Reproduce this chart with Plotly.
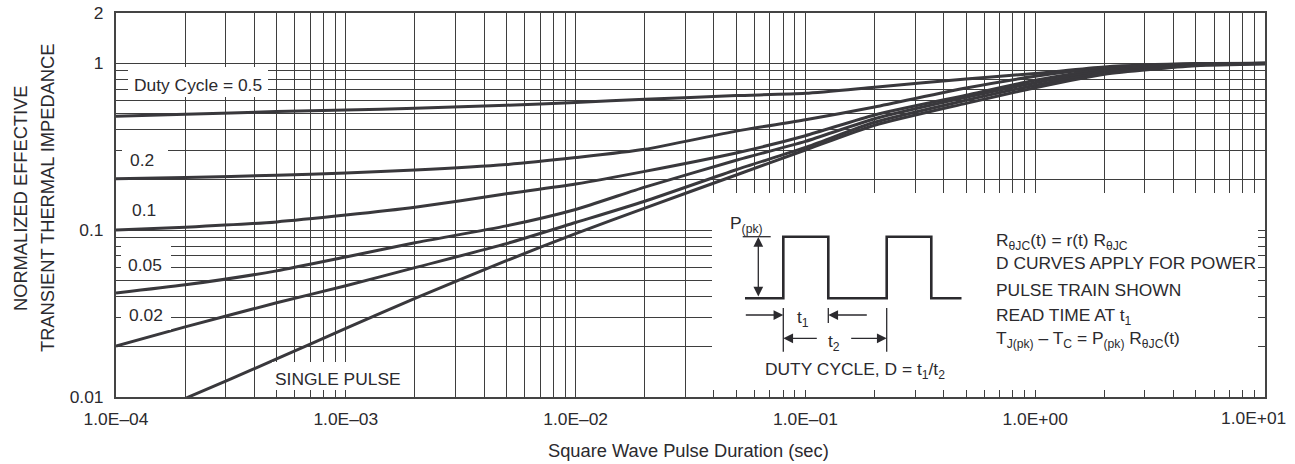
import numpy as np
import plotly.graph_objects as go

# ---------------- data ----------------
pulse_duration = [1e-4, 2e-4, 5e-4, 1e-3, 2e-3, 5e-3, 1e-2, 2e-2, 5e-2,
                  1e-1, 2e-1, 5e-1, 1.0, 2.0, 5.0, 10.0]

r_duty_050 = [0.482, 0.495, 0.513, 0.525, 0.537, 0.560, 0.582, 0.608, 0.640,
              0.660, 0.718, 0.805, 0.868, 0.950, 0.995, 1.000]
r_duty_020 = [0.203, 0.207, 0.213, 0.220, 0.229, 0.247, 0.272, 0.305, 0.392,
              0.458, 0.547, 0.710, 0.835, 0.935, 0.990, 1.000]
r_duty_010 = [0.100, 0.104, 0.112, 0.123, 0.137, 0.165, 0.189, 0.225, 0.290,
              0.368, 0.490, 0.643, 0.790, 0.914, 0.985, 1.000]
r_duty_005 = [0.042, 0.047, 0.057, 0.069, 0.084, 0.106, 0.133, 0.181, 0.262,
              0.340, 0.465, 0.625, 0.764, 0.895, 0.978, 1.000]
r_duty_002 = [0.0202, 0.0263, 0.0367, 0.0464, 0.0596, 0.083, 0.111, 0.149, 0.230,
              0.313, 0.443, 0.600, 0.738, 0.877, 0.972, 0.995]
r_single = [0.0066, 0.0098, 0.0169, 0.0258, 0.039, 0.0656, 0.0953, 0.1356, 0.214,
            0.302, 0.425, 0.575, 0.713, 0.859, 0.966, 0.990]

curve_series = [r_duty_050, r_duty_020, r_duty_010, r_duty_005, r_duty_002, r_single]

x_tickvals = [1e-4, 1e-3, 1e-2, 1e-1, 1.0, 10.0]
x_ticktext = ["1.0E\u201304", "1.0E\u201303", "1.0E\u201302", "1.0E\u201301",
              "1.0E+00", "1.0E+01"]
y_tickvals = [0.01, 0.1, 1.0, 2.0]
y_ticktext = ["0.01", "0.1", "1", "2"]

curve_labels = ["Duty Cycle = 0.5", "0.2", "0.1", "0.05", "0.02", "SINGLE PULSE"]

# ---------------- style / layout ----------------
W, H = 1295, 464
ML, MR, MT, MB = 116, 30, 13, 67
PW, PH = W - ML - MR, H - MT - MB

FONT = "Liberation Sans, Arial, Helvetica, sans-serif"
TXT = "#2b2a2e"
CURVE = "#39383c"
GRID = "#3e3e3e"
AX = "#444444"
FS = 17.4
FT = 18.3


def PX(x):
    return (x - ML) / PW


def PY(y):
    return (MT + PH - y) / PH


fig = go.Figure()
for r in curve_series:
    fig.add_trace(go.Scatter(
        x=pulse_duration, y=r, mode="lines",
        line=dict(color=CURVE, width=3, shape="spline", smoothing=0.6),
        showlegend=False, hoverinfo="skip"))

shapes = []


def wbox(x0, x1, y0, y1):
    shapes.append(dict(type="rect", xref="paper", yref="paper",
                       x0=PX(x0), x1=PX(x1), y0=PY(y1), y1=PY(y0),
                       fillcolor="white", line=dict(width=0), layer="above"))


# inset background and label backgrounds (gridline stubs left at the frame act as ticks)
wbox(712, 1258, 193, 390)
wbox(128, 268, 67, 97)
wbox(122, 168, 145, 173)
wbox(121, 171, 244, 276)
wbox(121, 171, 303, 330)
wbox(272, 405, 362, 390)


def seg(x0, y0, x1, y1, w=1.3):
    shapes.append(dict(type="line", xref="paper", yref="paper",
                       x0=PX(x0), y0=PY(y0), x1=PX(x1), y1=PY(y1),
                       line=dict(color=TXT, width=w), layer="above"))


# pulse train illustration
pulse_pts = [(745, 298.3), (783.3, 298.3), (783.3, 236.7), (828.3, 236.7),
             (828.3, 298.3), (886.7, 298.3), (886.7, 236.7), (931.3, 236.7),
             (931.3, 298.3), (961.5, 298.3)]
path = "M " + " L ".join(f"{PX(a):.5f},{PY(b):.5f}" for a, b in pulse_pts)
shapes.append(dict(type="path", xref="paper", yref="paper", path=path,
                   line=dict(color=TXT, width=2.6), layer="above"))
seg(742.7, 236.7, 770.7, 236.7)
seg(783.3, 308, 783.3, 351.7)
seg(828.3, 308, 828.3, 323)
seg(886.7, 308, 886.7, 351.7)

annotations = []


def txt(s, x, y, xanchor="center", size=FS, angle=0):
    annotations.append(dict(text=s, xref="paper", yref="paper", x=PX(x), y=PY(y),
                            xanchor=xanchor, yanchor="middle", showarrow=False,
                            textangle=angle,
                            font=dict(family=FONT, size=size, color=TXT)))


def arrow(xh, yh, ax, ay, both=False):
    a = dict(text="", xref="paper", yref="paper", x=PX(xh), y=PY(yh),
             ax=ax, ay=ay, showarrow=True, arrowhead=2, arrowsize=1.5,
             arrowwidth=1.3, arrowcolor=TXT, standoff=0)
    if both:
        a.update(arrowside="end+start", startarrowhead=2, startarrowsize=1.5,
                 startstandoff=0)
    annotations.append(a)


# curve labels
txt(curve_labels[0], 198, 85)
txt(curve_labels[1], 141.5, 160)
txt(curve_labels[2], 144, 210)
txt(curve_labels[3], 144.5, 265)
txt(curve_labels[4], 146, 315)
txt(curve_labels[5], 338, 379)

# inset texts
txt("P<sub>(pk)</sub>", 728, 224, xanchor="left")
txt("t<sub>1</sub>", 803, 318)
txt("t<sub>2</sub>", 834, 342)
txt("DUTY CYCLE, D = t<sub>1</sub>/t<sub>2</sub>", 763, 370, xanchor="left")
txt("R<sub>\u03b8JC</sub>(t) = r(t) R<sub>\u03b8JC</sub>", 994, 241, xanchor="left")
txt("D CURVES APPLY FOR POWER", 994, 262.5, xanchor="left")
txt("PULSE TRAIN SHOWN", 994, 290, xanchor="left")
txt("READ TIME AT t<sub>1</sub>", 994, 316, xanchor="left")
txt("T<sub>J(pk)</sub> \u2013 T<sub>C</sub> = P<sub>(pk)</sub> R<sub>\u03b8JC</sub>(t)",
    994, 339.5, xanchor="left")

# arrows
arrow(758.3, 237, 0, 61, both=True)
arrow(783.3, 315, -39, 0)
arrow(828.3, 315, 40, 0)
arrow(783.3, 338.3, 35, 0)
arrow(886.7, 338.3, -37, 0)

# axis titles
txt("NORMALIZED EFFECTIVE", 20, 198, size=FT, angle=-90)
txt("TRANSIENT THERMAL IMPEDANCE", 47.5, 198.5, size=FT, angle=-90)
txt("Square Wave Pulse Duration (sec)", 688.5, 450, size=FT)

# last x tick label sits shifted left of its tick (as in the original), drawn as text
txt(x_ticktext[-1], 1253, 417.5)
x_ticktext_axis = x_ticktext[:-1] + [""]

axis_common = dict(
    type="log", ticks="", showgrid=True, gridcolor=GRID, gridwidth=1,
    showline=True, linecolor=AX, linewidth=2, mirror=True,
    zeroline=False, automargin=False,
    tickfont=dict(family=FONT, size=FS, color=TXT),
    minor=dict(dtick="D1", ticks="", showgrid=True, gridcolor=GRID, gridwidth=1),
)

fig.update_layout(
    width=W, height=H,
    margin=dict(l=ML, r=MR, t=MT, b=MB, pad=0, autoexpand=False),
    paper_bgcolor="white", plot_bgcolor="white",
    showlegend=False,
    xaxis=dict(axis_common, range=[-4, 1], tickmode="array",
               tickvals=x_tickvals, ticktext=x_ticktext_axis, ticklabelstandoff=5),
    yaxis=dict(axis_common, range=[-2, np.log10(2.0)], tickmode="array",
               tickvals=y_tickvals, ticktext=y_ticktext, ticklabelstandoff=7),
    shapes=shapes,
    annotations=annotations,
    font=dict(family=FONT, size=FS, color=TXT),
)

fig.write_html("out.html", config={"displayModeBar": False},
               post_script="document.body.style.margin='0';")
